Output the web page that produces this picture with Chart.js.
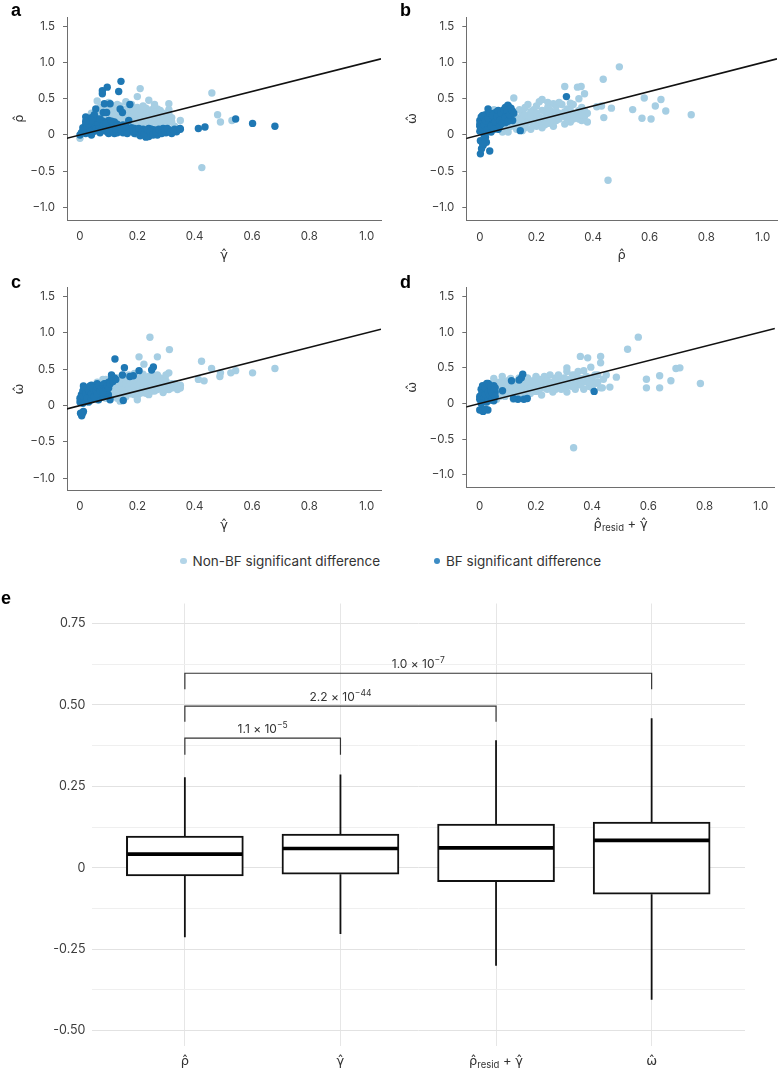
<!DOCTYPE html>
<html><head><meta charset="utf-8">
<script src="https://cdn.jsdelivr.net/npm/chart.js@4.4.1/dist/chart.umd.min.js"></script>
<style>
body{margin:0;background:#fff;width:781px;height:1071px;overflow:hidden;position:relative;font-family:Inter,"DejaVu Sans",sans-serif;}
canvas{position:absolute;}
.lab{position:absolute;font:bold 18px "Liberation Sans",Arial,sans-serif;color:#000;line-height:18px;}
.leg{position:absolute;top:552px;height:18px;font-size:13.5px;color:#333;display:flex;align-items:center;white-space:nowrap;}
.dot{width:6.5px;height:6.5px;border-radius:50%;display:inline-block;margin-right:6px;}
</style></head>
<body>
<canvas id="ca" width="390" height="272" style="left:0;top:0"></canvas>
<canvas id="cb" width="391" height="272" style="left:390px;top:0"></canvas>
<canvas id="cc" width="390" height="272" style="left:0;top:270px"></canvas>
<canvas id="cd" width="391" height="272" style="left:390px;top:270px"></canvas>
<canvas id="ce" width="781" height="481" style="left:0;top:590px"></canvas>
<div class="lab" style="left:11px;top:1px">a</div>
<div class="lab" style="left:400px;top:1px">b</div>
<div class="lab" style="left:11px;top:273px">c</div>
<div class="lab" style="left:400px;top:273px">d</div>
<div class="lab" style="left:1px;top:589px">e</div>
<div class="leg" style="left:180px"><span class="dot" style="background:#b3d5e8"></span>Non-BF significant difference</div>
<div class="leg" style="left:433.5px"><span class="dot" style="background:#3d8cc4"></span>BF significant difference</div>
<script>
const FONT = 'Inter, "DejaVu Sans", sans-serif';
const HATFONT = '"DejaVu Sans", sans-serif';
const LIGHT = '#a6cee3', DARK = '#1f78b4';
const AXIS = '#6e6e6e', TICK = '#3c3c3c', TITLE = '#333';

// ---- scatter panels: shared axes ----
const xTicks = [0, 0.2, 0.4, 0.6, 0.8, 1.0];
const xTickLabels = ['0', '0.2', '0.4', '0.6', '0.8', '1.0'];
const yTicks = [-1, -0.5, 0, 0.5, 1, 1.5];
const yTickLabels = ['\u22121.0', '\u22120.5', '0', '0.5', '1.0', '1.5'];
const identityEnds = [-0.05, 1.05];

// panel a: x = gamma-hat, y = rho-hat
const aLight = [[0.0,-0.045],[0.02,0.04],[0.03,0.12],[0.04,0.2],[0.05,0.28],[0.06,0.33],[0.06,0.47],[0.07,0.38],[0.08,0.25],[0.09,0.3],[0.1,0.15],[0.1,0.35],[0.11,0.22],[0.12,0.3],[0.12,0.4],[0.13,0.12],[0.13,0.25],[0.14,0.18],[0.14,0.33],[0.15,0.28],[0.15,0.08],[0.16,0.22],[0.16,0.36],[0.17,0.14],[0.17,0.3],[0.18,0.24],[0.18,0.35],[0.19,0.18],[0.19,0.1],[0.2,0.3],[0.2,0.38],[0.2,0.53],[0.21,0.64],[0.21,0.22],[0.21,0.15],[0.22,0.34],[0.22,0.27],[0.23,0.2],[0.23,0.37],[0.24,0.3],[0.24,0.48],[0.24,0.12],[0.25,0.25],[0.25,0.35],[0.26,0.18],[0.26,0.3],[0.27,0.22],[0.27,0.36],[0.28,0.28],[0.28,0.15],[0.29,0.2],[0.3,0.26],[0.31,0.29],[0.31,0.43],[0.32,0.24],[0.2,0.01],[0.22,0.05],[0.18,0.04],[0.46,0.58],[0.48,0.28],[0.49,0.18],[0.53,0.2],[0.425,-0.45],[0.27,0.1],[0.3,0.17],[0.12,0.05],[0.08,0.1],[0.05,0.15],[0.35,0.2],[0.33,0.12],[0.16,0.46],[0.14,0.4],
  [0.04,0.3],[0.07,0.2],[0.08,0.32],[0.09,0.4],[0.11,0.28],[0.11,0.38],[0.13,0.36],[0.14,0.26],[0.15,0.2],[0.16,0.3],[0.17,0.38],[0.18,0.18],[0.19,0.27],[0.19,0.32],[0.2,0.2],[0.21,0.3],[0.21,0.36],[0.22,0.4],[0.23,0.28],[0.23,0.14],[0.24,0.22],[0.25,0.18],[0.26,0.24],[0.26,0.37],[0.27,0.28],[0.28,0.34],[0.29,0.25],[0.29,0.3],[0.3,0.21],[0.31,0.35],[0.32,0.18],[0.13,0.42],[0.1,0.45],[0.18,0.42],[0.26,0.42],[0.09,0.2],[0.06,0.25],[0.03,0.18]];
const aDark = [[0.143,0.74],[0.095,0.66],[0.078,0.61],[0.078,0.57],[0.135,0.6],[0.174,0.42],[0.105,0.43],[0.085,0.43],[0.055,0.36],[0.081,0.31],[0.093,0.31],[0.14,0.36],[0.148,0.31],[0.413,0.09],[0.436,0.11],[0.543,0.22],[0.602,0.16],[0.68,0.12],[0.349,0.09],[0.337,0.045],[0.0,0.0],[0.01,0.05],[0.01,0.1],[0.02,0.15],[0.02,0.02],[0.03,0.08],[0.03,0.2],[0.04,0.12],[0.04,0.24],[0.05,0.05],[0.05,0.18],[0.06,0.1],[0.06,0.22],[0.07,0.03],[0.07,0.15],[0.08,0.07],[0.08,0.19],[0.09,0.12],[0.1,0.02],[0.1,0.08],[0.11,0.15],[0.12,0.1],[0.12,0.02],[0.13,0.06],[0.14,0.1],[0.15,0.03],[0.16,0.08],[0.17,0.05],[0.18,0.1],[0.19,0.02],[0.2,0.06],[0.21,-0.01],[0.22,0.08],[0.23,-0.03],[0.23,0.04],[0.24,0.09],[0.25,0.03],[0.26,0.07],[0.27,0.0],[0.28,0.05],[0.29,0.09],[0.3,0.03],[0.31,0.07],[0.32,0.02],[0.33,0.08],[0.02,0.25],[0.05,0.28],[0.12,0.18],[0.13,0.03],[0.19,0.09],[0.25,0.08],[0.17,0.2],[0.1,0.2],[0.04,0.0],[0.15,0.14],[0.24,-0.02],[0.3,0.08],[0.35,0.08],
  [0.005,0.03],[0.015,0.08],[0.025,0.12],[0.035,0.05],[0.045,0.16],[0.055,0.08],[0.065,0.13],[0.075,0.06],[0.085,0.1],[0.095,0.04],[0.105,0.12],[0.115,0.05],[0.125,0.08],[0.135,0.12],[0.145,0.05],[0.155,0.09],[0.165,0.02],[0.175,0.08],[0.185,0.05],[0.195,0.06],[0.205,0.09],[0.215,0.04],[0.225,0.02],[0.235,0.07],[0.245,0.05],[0.255,0.0],[0.265,0.04],[0.275,0.08],[0.285,0.02],[0.295,0.06],[0.305,0.09],[0.315,0.04],[0.325,0.06],[0.03,0.16],[0.06,0.18],[0.08,0.16],[0.04,0.2],[0.07,0.22],[0.02,0.19],[0.09,0.16],[0.11,0.19],[0.13,0.15],[0.16,0.12]];

// panel b: x = rho-hat, y = omega-hat
const bLight = [[0.02,0.08],[0.03,0.14],[0.04,0.06],[0.05,0.1],[0.05,0.35],[0.06,0.18],[0.07,0.08],[0.08,0.14],[0.09,0.22],[0.1,0.1],[0.11,0.17],[0.12,0.26],[0.12,0.51],[0.13,0.12],[0.14,0.2],[0.15,0.3],[0.16,0.14],[0.17,0.24],[0.17,0.42],[0.18,0.18],[0.19,0.35],[0.2,0.12],[0.2,0.27],[0.21,0.46],[0.22,0.2],[0.22,0.49],[0.23,0.32],[0.24,0.16],[0.24,0.38],[0.25,0.25],[0.26,0.43],[0.27,0.2],[0.28,0.3],[0.29,0.42],[0.3,0.15],[0.3,0.25],[0.3,0.67],[0.31,0.36],[0.32,0.44],[0.33,0.22],[0.34,0.3],[0.345,0.66],[0.35,0.5],[0.36,0.2],[0.36,0.38],[0.358,0.67],[0.37,0.57],[0.37,0.26],[0.38,0.18],[0.38,0.3],[0.436,0.77],[0.493,0.94],[0.413,0.39],[0.438,0.24],[0.465,0.37],[0.54,0.35],[0.573,0.23],[0.581,0.51],[0.605,0.22],[0.62,0.4],[0.64,0.49],[0.657,0.33],[0.747,0.28],[0.453,-0.625],[0.43,0.4],[0.15,0.06],[0.08,0.04],[0.26,0.12],[0.32,0.18],[0.2,0.4],[0.1,0.3],[0.07,0.28],
  [0.04,0.14],[0.06,0.12],[0.07,0.2],[0.08,0.1],[0.09,0.16],[0.1,0.22],[0.11,0.12],[0.12,0.18],[0.13,0.24],[0.13,0.08],[0.14,0.15],[0.15,0.22],[0.16,0.28],[0.16,0.1],[0.17,0.18],[0.18,0.25],[0.18,0.32],[0.19,0.14],[0.19,0.22],[0.2,0.3],[0.21,0.18],[0.21,0.25],[0.22,0.34],[0.23,0.14],[0.23,0.24],[0.24,0.28],[0.25,0.2],[0.25,0.34],[0.26,0.27],[0.27,0.32],[0.27,0.4],[0.28,0.22],[0.29,0.27],[0.3,0.32],[0.31,0.2],[0.31,0.27],[0.32,0.34],[0.33,0.3],[0.34,0.24],[0.35,0.34],[0.35,0.22],[0.36,0.28],[0.37,0.34],[0.24,0.45],[0.28,0.45],[0.33,0.42],[0.16,0.38],[0.14,0.35],[0.11,0.24],[0.06,0.25],[0.1,0.04],[0.18,0.08],[0.22,0.1]];
const bDark = [[0.0,0.05],[0.0,0.12],[0.0,0.2],[0.005,0.25],[0.01,0.08],[0.01,0.16],[0.015,0.22],[0.02,0.1],[0.02,0.28],[0.025,0.18],[0.029,0.36],[0.03,0.05],[0.03,0.14],[0.035,0.24],[0.04,0.2],[0.045,0.1],[0.05,0.3],[0.05,0.16],[0.055,0.24],[0.06,0.12],[0.06,0.32],[0.065,0.2],[0.07,0.27],[0.075,0.15],[0.08,0.33],[0.08,0.22],[0.085,0.28],[0.09,0.38],[0.09,0.17],[0.095,0.3],[0.1,0.25],[0.1,0.4],[0.105,0.35],[0.11,0.3],[0.099,0.41],[0.116,0.2],[0.143,0.06],[0.306,0.53],[0.002,-0.08],[0.012,-0.14],[0.002,-0.26],[0.035,-0.22],[0.023,-0.1],[0.006,-0.19],[0.015,0.0],[0.04,0.04],[0.065,0.08],
  [0.0,0.15],[0.005,0.09],[0.01,0.27],[0.015,0.13],[0.02,0.2],[0.025,0.07],[0.03,0.23],[0.035,0.3],[0.04,0.12],[0.045,0.27],[0.05,0.08],[0.055,0.19],[0.06,0.26],[0.065,0.34],[0.07,0.12],[0.07,0.2],[0.075,0.3],[0.08,0.17],[0.085,0.35],[0.09,0.24],[0.095,0.34],[0.1,0.19],[0.105,0.28],[0.11,0.37],[0.115,0.33],[0.12,0.3],[0.02,-0.03],[0.01,-0.12]];

// panel c: x = gamma-hat, y = omega-hat
const cLight = [[0.03,0.05],[0.04,0.12],[0.05,0.2],[0.06,0.08],[0.06,0.32],[0.07,0.15],[0.08,0.36],[0.09,0.1],[0.1,0.2],[0.1,0.28],[0.11,0.13],[0.12,0.24],[0.13,0.33],[0.13,0.1],[0.14,0.18],[0.15,0.28],[0.16,0.12],[0.16,0.22],[0.17,0.34],[0.18,0.16],[0.18,0.26],[0.19,0.2],[0.2,0.3],[0.2,0.13],[0.21,0.38],[0.21,0.24],[0.22,0.18],[0.22,0.3],[0.23,0.22],[0.24,0.33],[0.24,0.15],[0.25,0.26],[0.25,0.4],[0.26,0.2],[0.27,0.3],[0.28,0.24],[0.28,0.38],[0.29,0.18],[0.3,0.28],[0.3,0.34],[0.31,0.22],[0.31,0.45],[0.32,0.3],[0.33,0.26],[0.34,0.22],[0.35,0.28],[0.244,0.94],[0.312,0.77],[0.206,0.67],[0.27,0.67],[0.223,0.57],[0.424,0.61],[0.459,0.51],[0.49,0.45],[0.488,0.40],[0.433,0.34],[0.413,0.36],[0.526,0.45],[0.543,0.48],[0.602,0.45],[0.68,0.51],[0.19,0.44],[0.15,0.38],[0.11,0.34],[0.08,0.26],[0.2,0.08],[0.26,0.36],[0.05,0.1],[0.14,0.06],
  [0.05,0.14],[0.06,0.22],[0.07,0.28],[0.08,0.12],[0.08,0.2],[0.09,0.32],[0.1,0.14],[0.11,0.22],[0.11,0.28],[0.12,0.16],[0.12,0.32],[0.13,0.2],[0.13,0.26],[0.14,0.3],[0.14,0.12],[0.15,0.16],[0.15,0.22],[0.16,0.3],[0.17,0.18],[0.17,0.26],[0.18,0.22],[0.18,0.32],[0.19,0.15],[0.19,0.26],[0.2,0.22],[0.2,0.36],[0.21,0.17],[0.21,0.3],[0.22,0.25],[0.22,0.36],[0.23,0.17],[0.23,0.29],[0.24,0.22],[0.24,0.4],[0.25,0.2],[0.25,0.32],[0.26,0.26],[0.27,0.22],[0.27,0.36],[0.28,0.3],[0.29,0.25],[0.29,0.34],[0.3,0.22],[0.31,0.28],[0.32,0.24],[0.33,0.3],[0.34,0.27],[0.35,0.24],[0.17,0.42],[0.22,0.43],[0.27,0.42],[0.3,0.42],[0.09,0.36],[0.13,0.38]];
const cDark = [[0.122,0.64],[0.155,0.52],[0.148,0.42],[0.206,0.48],[0.256,0.53],[0.25,0.49],[0.174,0.4],[0.186,0.41],[0.11,0.42],[0.105,0.08],[0.151,0.07],[0.099,0.15],[0.002,-0.105],[0.006,-0.14],[0.012,-0.08],[0.0,0.05],[0.0,0.1],[0.005,0.15],[0.01,0.03],[0.01,0.2],[0.012,0.27],[0.015,0.12],[0.02,0.08],[0.025,0.18],[0.03,0.25],[0.03,0.05],[0.035,0.14],[0.04,0.22],[0.045,0.1],[0.05,0.18],[0.05,0.27],[0.055,0.13],[0.06,0.22],[0.065,0.08],[0.07,0.16],[0.07,0.26],[0.075,0.2],[0.08,0.12],[0.085,0.24],[0.09,0.3],[0.09,0.18],[0.095,0.22],[0.1,0.28],[0.1,0.32],[0.11,0.36],[0.12,0.38],[0.04,0.28],[0.06,0.3],
  [0.005,0.08],[0.01,0.13],[0.015,0.24],[0.02,0.17],[0.025,0.1],[0.03,0.2],[0.035,0.27],[0.04,0.08],[0.04,0.16],[0.045,0.24],[0.05,0.12],[0.055,0.2],[0.06,0.16],[0.06,0.26],[0.065,0.28],[0.07,0.2],[0.075,0.25],[0.08,0.18],[0.08,0.28],[0.085,0.3],[0.09,0.24],[0.095,0.27],[0.1,0.24],[0.105,0.3],[0.115,0.33],[0.125,0.36],[0.005,-0.12],[0.01,-0.1]];

// panel d: x = rho-hat_resid + gamma-hat, y = omega-hat
const dLight = [[0.04,0.1],[0.05,0.2],[0.05,0.35],[0.06,0.06],[0.07,0.15],[0.08,0.26],[0.08,0.38],[0.09,0.1],[0.1,0.2],[0.1,0.32],[0.11,0.14],[0.12,0.24],[0.12,0.06],[0.13,0.3],[0.14,0.18],[0.15,0.1],[0.15,0.26],[0.16,0.35],[0.17,0.2],[0.18,0.14],[0.18,0.3],[0.19,0.24],[0.2,0.38],[0.2,0.17],[0.21,0.28],[0.22,0.22],[0.22,0.12],[0.23,0.33],[0.24,0.2],[0.25,0.28],[0.25,0.4],[0.26,0.16],[0.27,0.24],[0.28,0.32],[0.29,0.2],[0.3,0.28],[0.3,0.36],[0.31,0.45],[0.31,0.16],[0.32,0.25],[0.33,0.32],[0.34,0.4],[0.34,0.2],[0.35,0.27],[0.36,0.35],[0.37,0.46],[0.37,0.2],[0.38,0.3],[0.39,0.24],[0.4,0.36],[0.41,0.28],[0.42,0.4],[0.43,0.22],[0.44,0.34],[0.564,0.93],[0.526,0.76],[0.358,0.66],[0.384,0.64],[0.43,0.66],[0.43,0.57],[0.395,0.51],[0.698,0.49],[0.712,0.5],[0.64,0.39],[0.593,0.34],[0.68,0.32],[0.593,0.22],[0.64,0.22],[0.785,0.28],[0.486,0.37],[0.463,0.23],[0.436,0.22],[0.334,-0.62],[0.45,0.4],[0.14,0.36],[0.07,0.3],
  [0.05,0.14],[0.06,0.26],[0.07,0.1],[0.08,0.2],[0.09,0.3],[0.09,0.16],[0.1,0.26],[0.11,0.2],[0.11,0.35],[0.12,0.14],[0.12,0.3],[0.13,0.22],[0.14,0.26],[0.14,0.12],[0.15,0.18],[0.15,0.32],[0.16,0.22],[0.16,0.14],[0.17,0.28],[0.17,0.36],[0.18,0.22],[0.19,0.18],[0.19,0.32],[0.2,0.25],[0.21,0.2],[0.21,0.34],[0.22,0.28],[0.23,0.22],[0.23,0.38],[0.24,0.26],[0.24,0.32],[0.25,0.22],[0.26,0.3],[0.27,0.2],[0.27,0.36],[0.28,0.26],[0.29,0.3],[0.3,0.22],[0.31,0.34],[0.32,0.3],[0.33,0.24],[0.33,0.4],[0.34,0.32],[0.35,0.36],[0.36,0.26],[0.37,0.32],[0.38,0.38],[0.39,0.3],[0.4,0.22],[0.41,0.4],[0.42,0.3],[0.28,0.4],[0.31,0.5],[0.35,0.45],[0.2,0.31],[0.06,0.15]];
const dDark = [[0.0,0.06],[0.005,0.12],[0.01,0.2],[0.01,0.03],[0.015,0.15],[0.02,0.25],[0.02,0.08],[0.025,0.18],[0.03,0.1],[0.03,0.28],[0.035,0.22],[0.04,0.14],[0.04,0.05],[0.045,0.2],[0.05,0.25],[0.05,0.1],[0.055,0.16],[0.025,0.02],[0.0,-0.09],[0.029,-0.09],[0.012,-0.11],[0.153,0.41],[0.148,0.36],[0.14,0.33],[0.113,0.32],[0.081,0.18],[0.136,0.06],[0.157,0.06],[0.169,0.07],[0.12,0.07],[0.407,0.17],
  [0.0,0.1],[0.005,0.2],[0.01,0.15],[0.01,0.25],[0.015,0.07],[0.02,0.13],[0.02,0.22],[0.025,0.28],[0.03,0.16],[0.03,0.05],[0.035,0.12],[0.035,0.26],[0.04,0.18],[0.04,0.24],[0.045,0.08],[0.045,0.14],[0.05,0.2],[0.05,0.04],[0.055,0.1],[0.055,0.22],[0.005,0.0],[0.01,-0.1],[0.02,-0.08]];

// ---- panel e: box plot ----
const boxCategories = ['\u03C1\u0302', '\u03B3\u0302', 'resid', '\u03C9\u0302'];
const boxLow    = [-0.213, -0.203, -0.301, -0.405];
const boxQ1     = [-0.025, -0.020, -0.043, -0.081];
const boxMedian = [ 0.042,  0.059,  0.061,  0.084];
const boxQ3     = [ 0.097,  0.103,  0.134,  0.140];
const boxHigh   = [ 0.278,  0.286,  0.391,  0.459];
const eYTicks = [-0.5,-0.375,-0.25,-0.125,0,0.125,0.25,0.375,0.5,0.625,0.75];
const eYLabels = {'-0.5':'-0.50','-0.25':'-0.25','0':'0','0.25':'0.25','0.5':'0.50','0.75':'0.75'};
const bracketFrom = [0, 0, 0];
const bracketTo   = [1, 2, 3];
const bracketTop  = [0.398, 0.496, 0.597];
const bracketFoot = [0.347, 0.448, 0.548];
const bracketMant = ['1.1 \u00D7 10', '2.2 \u00D7 10', '1.0 \u00D7 10'];
const bracketExp  = ['\u22125', '\u221244', '\u22127'];

Chart.defaults.font.family = FONT;

function drawRich(ctx, parts, cx, y) {
  let w = 0;
  parts.forEach(p => { ctx.font = p.size + 'px ' + (p.f || FONT); p.w = ctx.measureText(p.t).width; w += p.w; });
  let x = cx - w / 2;
  ctx.textAlign = 'left'; ctx.textBaseline = 'alphabetic';
  parts.forEach(p => { ctx.font = p.size + 'px ' + (p.f || FONT); ctx.fillText(p.t, x, y + (p.dy || 0)); x += p.w; });
}
const residParts = () => [{t:'\u03C1\u0302', size:13, f:HATFONT}, {t:'resid', size:9.5, dy:3}, {t:' + ', size:13}, {t:'\u03B3\u0302', size:13, f:HATFONT}];

function makeScatter(id, light, dark, L) {
  const pts = a => a.map(p => ({x: p[0], y: p[1]}));
  return new Chart(document.getElementById(id), {
    type: 'scatter',
    data: { datasets: [
      {data: pts(light), backgroundColor: LIGHT, borderWidth: 0, pointRadius: 3.7, order: 3},
      {data: pts(dark), backgroundColor: DARK, borderWidth: 0, pointRadius: 3.7, order: 2},
      {type: 'line', data: identityEnds.map(v => ({x: v, y: v})), borderColor: '#111', borderWidth: 1.6, pointRadius: 0, order: 1}
    ]},
    options: {
      responsive: false, animation: false, devicePixelRatio: 1, events: [],
      layout: {padding: {top: L.top, right: L.right, left: 0, bottom: 0}},
      plugins: {legend: {display: false}, tooltip: {enabled: false}},
      scales: {
        x: {type: 'linear', min: L.xmin, max: 1.05,
          afterBuildTicks: s => { s.ticks = xTicks.map(v => ({value: v})); },
          afterFit: s => { s.height = L.xh; },
          grid: {display: false, drawTicks: false},
          border: {display: true, color: AXIS, width: 1},
          ticks: {padding: L.xpad, color: TICK, font: {size: 11.5}, maxRotation: 0, autoSkip: false, callback: (v, i) => xTickLabels[i]},
          title: {display: !!L.xTitle, text: L.xTitle || '', color: TITLE, font: {size: 13, family: HATFONT}, padding: {top: 0, bottom: 8.5}}},
        y: {type: 'linear', min: -1.173, max: 1.628,
          afterBuildTicks: s => { s.ticks = yTicks.map(v => ({value: v})); },
          afterFit: s => { s.width = L.yw; },
          grid: {display: true, drawOnChartArea: false, drawTicks: true, tickLength: 4, color: AXIS},
          border: {display: true, color: AXIS, width: 1},
          ticks: {padding: 8, color: TICK, font: {size: 11.5}, autoSkip: false, callback: (v, i) => yTickLabels[i]},
          title: {display: true, text: L.yTitle, color: TITLE, font: {size: 13, family: HATFONT}, padding: {top: L.ytpad, bottom: 0}}}
      }
    },
    plugins: L.plugins || []
  });
}

makeScatter('ca', aLight, aDark, {top: 17, right: 9, yw: 67, xh: 52, xmin: -0.0453, xpad: 10, xTitle: '\u03B3\u0302', yTitle: '\u03C1\u0302', ytpad: 12});
makeScatter('cb', bLight, bDark, {top: 17, right: 0, yw: 76.3, xh: 52, xmin: -0.0478, xpad: 10.4, xTitle: '\u03C1\u0302', yTitle: '\u03C9\u0302', ytpad: 15});
makeScatter('cc', cLight, cDark, {top: 17.3, right: 9, yw: 67, xh: 51.3, xmin: -0.0453, xpad: 9.2, xTitle: '\u03B3\u0302', yTitle: '\u03C9\u0302', ytpad: 12});
makeScatter('cd', dLight, dDark, {top: 17.3, right: 0, yw: 76.3, xh: 54.7, xmin: -0.0478, xpad: 12.5, xTitle: '', yTitle: '\u03C9\u0302', ytpad: 15,
  plugins: [{id: 'dTitle', afterDraw(chart) {
    const a = chart.chartArea, ctx = chart.ctx;
    ctx.save(); ctx.fillStyle = TITLE; drawRich(ctx, residParts(), (a.left + a.right) / 2, 258); ctx.restore();
  }}]});

// panel e
const eDatasets = [
  {type: 'bar', data: boxQ1.map((q, i) => ({x: i, y: [q, boxQ3[i]]})), backgroundColor: '#fff', borderColor: '#111', borderWidth: 2, borderSkipped: false, barThickness: 117, order: 1}
];
boxQ1.forEach((q, i) => {
  eDatasets.push({type: 'line', data: [{x: i, y: boxQ3[i]}, {x: i, y: boxHigh[i]}], borderColor: '#111', borderWidth: 1.8, pointRadius: 0, order: 2});
  eDatasets.push({type: 'line', data: [{x: i, y: q}, {x: i, y: boxLow[i]}], borderColor: '#111', borderWidth: 1.8, pointRadius: 0, order: 2});
});
bracketFrom.forEach((f, k) => {
  eDatasets.push({type: 'line', data: [{x: f, y: bracketFoot[k]}, {x: f, y: bracketTop[k]}, {x: bracketTo[k], y: bracketTop[k]}, {x: bracketTo[k], y: bracketFoot[k]}],
    borderColor: '#333', borderWidth: 1.2, pointRadius: 0, order: 3});
});

const ePlugin = {id: 'eExtras', afterDatasetsDraw(chart) {
  const ctx = chart.ctx, xs = chart.scales.x, ys = chart.scales.y;
  const meta = chart.getDatasetMeta(0);
  ctx.save();
  ctx.strokeStyle = '#000'; ctx.lineWidth = 3.6; ctx.lineCap = 'butt';
  meta.data.forEach((bar, i) => {
    const y = ys.getPixelForValue(boxMedian[i]);
    ctx.beginPath(); ctx.moveTo(bar.x - bar.width / 2 + 1, y); ctx.lineTo(bar.x + bar.width / 2 - 1, y); ctx.stroke();
  });
  ctx.fillStyle = '#333';
  bracketFrom.forEach((f, k) => {
    const cx = (xs.getPixelForValue(f) + xs.getPixelForValue(bracketTo[k])) / 2;
    const y = ys.getPixelForValue(bracketTop[k]) - 5;
    drawRich(ctx, [{t: bracketMant[k], size: 12}, {t: bracketExp[k], size: 8.5, dy: -5}], cx, y);
  });
  ctx.fillStyle = TITLE;
  const yl = chart.chartArea.bottom + 18.5;
  boxCategories.forEach((c, i) => {
    const cx = xs.getPixelForValue(i);
    if (c === 'resid') drawRich(ctx, residParts(), cx, yl);
    else drawRich(ctx, [{t: c, size: 13, f: HATFONT}], cx, yl);
  });
  ctx.restore();
}};

new Chart(document.getElementById('ce'), {
  type: 'bar',
  data: {datasets: eDatasets},
  options: {
    responsive: false, animation: false, devicePixelRatio: 1, events: [],
    layout: {padding: {top: 10, right: 36, left: 0, bottom: 0}},
    plugins: {legend: {display: false}, tooltip: {enabled: false}},
    scales: {
      x: {type: 'linear', min: -0.6, max: 3.6, offset: false,
        afterBuildTicks: s => { s.ticks = boxCategories.map((c, i) => ({value: i})); },
        afterFit: s => { s.height = 25; },
        grid: {display: true, offset: false, drawTicks: false, color: '#e6e6e6', lineWidth: 1},
        border: {display: false},
        ticks: {display: false}},
      y: {type: 'linear', min: -0.547, max: 0.811,
        afterBuildTicks: s => { s.ticks = eYTicks.map(v => ({value: v})); },
        afterFit: s => { s.width = 91.5; },
        grid: {display: true, drawTicks: false, lineWidth: 1,
          color: c => (c.tick && Math.abs(c.tick.value * 4 - Math.round(c.tick.value * 4)) < 1e-6) ? '#e2e2e2' : '#efefef'},
        border: {display: false},
        ticks: {padding: 6, color: TICK, font: {size: 12.5}, autoSkip: false,
          callback: v => eYLabels[String(v)] || ''}}
    }
  },
  plugins: [ePlugin]
});
</script>
</body></html>
